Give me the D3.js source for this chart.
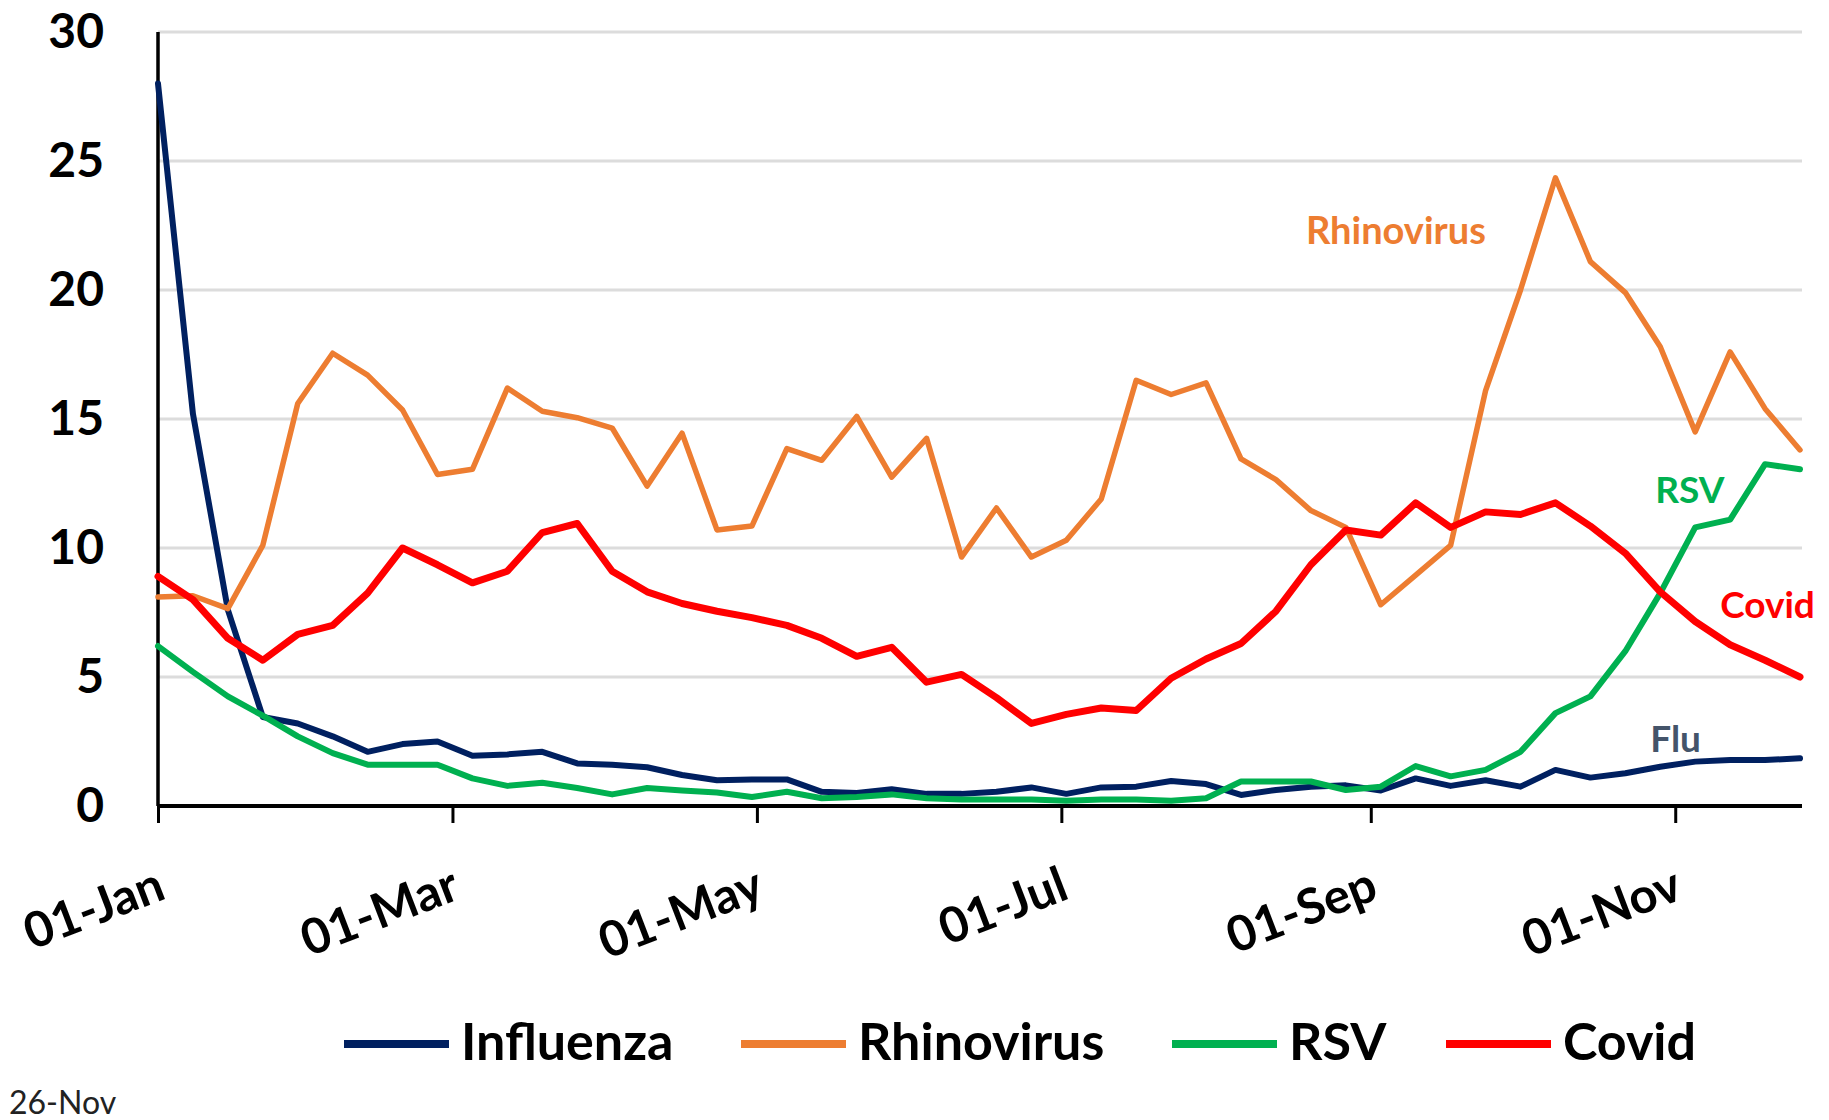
<!DOCTYPE html>
<html>
<head>
<meta charset="utf-8">
<script src="https://cdn.jsdelivr.net/npm/d3@7"></script>
<style>
  html, body { margin: 0; padding: 0; background: #fff; }
  svg text { font-family: Lato, "Open Sans", sans-serif; }
</style>
</head>
<body>
<script>
// weekly surveillance chart, one point per week (2022)

// week dates
var weeks = ["01-Jan","08-Jan","15-Jan","22-Jan","29-Jan","05-Feb","12-Feb","19-Feb","26-Feb",
  "05-Mar","12-Mar","19-Mar","26-Mar","02-Apr","09-Apr","16-Apr","23-Apr","30-Apr",
  "07-May","14-May","21-May","28-May","04-Jun","11-Jun","18-Jun","25-Jun",
  "02-Jul","09-Jul","16-Jul","23-Jul","30-Jul","06-Aug","13-Aug","20-Aug","27-Aug",
  "03-Sep","10-Sep","17-Sep","24-Sep","01-Oct","08-Oct","15-Oct","22-Oct","29-Oct",
  "05-Nov","12-Nov","19-Nov","26-Nov"];

// series values
var influenza = [28.0,15.2,7.6,3.45,3.2,2.7,2.1,2.4,2.5,1.95,2.0,2.1,1.65,1.6,
  1.5,1.2,1.0,1.03,1.03,0.55,0.5,0.65,0.47,0.47,0.55,0.72,0.47,0.72,0.75,0.97,
  0.85,0.43,0.62,0.75,0.8,0.6,1.07,0.78,1.0,0.75,1.4,1.1,1.27,1.52,1.72,1.78,1.78,1.85];
var rhinovirus = [8.1,8.15,7.65,10.1,15.6,17.55,16.7,15.35,12.85,13.05,16.2,15.3,15.05,14.65,
  12.4,14.45,10.7,10.85,13.85,13.4,15.1,12.75,14.25,9.65,11.55,9.65,10.3,11.9,16.5,15.95,16.4,
  13.45,12.65,11.45,10.8,7.8,8.95,10.1,16.1,20.0,24.35,21.1,19.9,17.8,14.5,17.6,15.4,13.8];
var rsv = [6.2,5.2,4.25,3.5,2.7,2.05,1.6,1.6,1.6,1.07,0.78,0.9,0.7,0.45,
  0.7,0.6,0.52,0.35,0.55,0.3,0.35,0.45,0.3,0.25,0.25,0.25,0.2,0.25,0.25,0.2,0.3,
  0.95,0.95,0.95,0.62,0.75,1.55,1.15,1.4,2.1,3.6,4.25,6.0,8.25,10.8,11.1,13.25,13.05];
var covid = [8.9,8.0,6.5,5.65,6.65,7.0,8.25,10.0,9.35,8.65,9.1,10.6,10.95,9.1,
  8.3,7.85,7.55,7.3,7.0,6.5,5.8,6.15,4.8,5.1,4.2,3.2,3.55,3.8,3.7,4.95,5.7,
  6.3,7.55,9.35,10.7,10.5,11.75,10.8,11.4,11.3,11.75,10.85,9.8,8.3,7.15,6.25,5.65,5.0];

var seriesNames = ["Influenza","Rhinovirus","RSV","Covid"];
var seriesColors = ["#002060","#ED7D31","#00B050","#FF0000"];
var seriesWidths = [6, 5.5, 6, 7];
var seriesValues = [influenza, rhinovirus, rsv, covid];

// axis ticks
var xTickLabels = ["01-Jan","01-Mar","01-May","01-Jul","01-Sep","01-Nov"];
var yTicks = [0,5,10,15,20,25,30];

// in-plot labels
var annoText = ["Rhinovirus","RSV","Covid","Flu"];
var annoColor = ["#ED7D31","#00B050","#FF0000","#44546A"];
var annoDate = ["19-Aug","28-Oct","10-Nov","27-Oct"]; // where each label starts
var annoValue = [21.8, 11.75, 7.3, 2.1];
var annoSize = [38, 37, 37, 37];

var parseDay = d3.timeParse("%d-%b-%Y");
function toDate(s){ return parseDay(s + "-2022"); }

var width = 1829, height = 1120;

var svg = d3.select("body").append("svg")
  .attr("width", width)
  .attr("height", height);

var x = d3.scaleTime()
  .domain([toDate(weeks[0]), toDate(weeks[weeks.length-1])])
  .range([158, 1800]);

var y = d3.scaleLinear()
  .domain([0, 30])
  .range([806, 32]);

// gridlines
svg.append("g").selectAll("line")
  .data(yTicks.filter(function(d){ return d > 0; }))
  .enter().append("line")
  .attr("x1", x.range()[0])
  .attr("x2", x.range()[1] + 2)
  .attr("y1", function(d){ return y(d); })
  .attr("y2", function(d){ return y(d); })
  .attr("stroke", "#dcdcdc")
  .attr("stroke-width", 3);

// y axis (labels only, plus the black line)
var yAxis = svg.append("g")
  .attr("transform", "translate(" + x.range()[0] + ",0)")
  .call(d3.axisLeft(y).tickValues(yTicks).tickSize(0).tickPadding(54));
yAxis.select(".domain").remove();
yAxis.selectAll("text")
  .attr("fill", "#000")
  .style("font-size", "48px")
  .style("font-weight", "bold");
svg.append("line")
  .attr("x1", x.range()[0]).attr("x2", x.range()[0])
  .attr("y1", y(0)).attr("y2", y(30))
  .attr("stroke", "#000").attr("stroke-width", 3.5);

// x axis
var xAxis = svg.append("g")
  .attr("transform", "translate(0," + y(0) + ")")
  .call(d3.axisBottom(x)
    .tickValues(xTickLabels.map(toDate))
    .tickSize(17)
    .tickFormat(d3.timeFormat("%d-%b")));
xAxis.select(".domain")
  .attr("d", "M" + x.range()[0] + ",0H" + (x.range()[1] + 2))
  .attr("stroke", "#000")
  .attr("stroke-width", 4);
xAxis.selectAll(".tick line")
  .attr("stroke", "#000")
  .attr("stroke-width", 3);
xAxis.selectAll(".tick text")
  .attr("y", 0).attr("dy", 0)
  .attr("fill", "#000")
  .attr("text-anchor", "end")
  .attr("transform", "translate(9,92) rotate(-21)")
  .style("font-size", "49px")
  .style("font-weight", "bold");

// series lines
var line = d3.line()
  .x(function(d, i){ return x(toDate(weeks[i])); })
  .y(function(d){ return y(d); });

svg.append("g").selectAll("path")
  .data(seriesValues)
  .enter().append("path")
  .attr("d", line)
  .attr("fill", "none")
  .attr("stroke", function(d, i){ return seriesColors[i]; })
  .attr("stroke-width", function(d, i){ return seriesWidths[i]; })
  .attr("stroke-linejoin", "round")
  .attr("stroke-linecap", "round");

// labels inside the plot
svg.append("g").selectAll("text")
  .data(annoText)
  .enter().append("text")
  .attr("x", function(d, i){ return x(toDate(annoDate[i])); })
  .attr("y", function(d, i){ return y(annoValue[i]); })
  .attr("fill", function(d, i){ return annoColor[i]; })
  .style("font-size", function(d, i){ return annoSize[i] + "px"; })
  .style("font-weight", "bold")
  .text(function(d){ return d; });

// legend
var legendX = [344, 741, 1172, 1446];
var legend = svg.append("g").selectAll("g")
  .data(seriesNames)
  .enter().append("g")
  .attr("transform", function(d, i){ return "translate(" + legendX[i] + ",1044)"; });
legend.append("line")
  .attr("x1", 0).attr("x2", 105)
  .attr("stroke", function(d, i){ return seriesColors[i]; })
  .attr("stroke-width", 8);
legend.append("text")
  .attr("x", 117)
  .attr("y", 16)
  .attr("fill", "#000")
  .style("font-size", "52px")
  .style("font-weight", "bold")
  .text(function(d){ return d; });

// last week date in the corner
svg.append("text")
  .attr("x", 9)
  .attr("y", 1114)
  .attr("fill", "#222")
  .style("font-size", "32px")
  .text(weeks[weeks.length-1]);
</script>
</body>
</html>
